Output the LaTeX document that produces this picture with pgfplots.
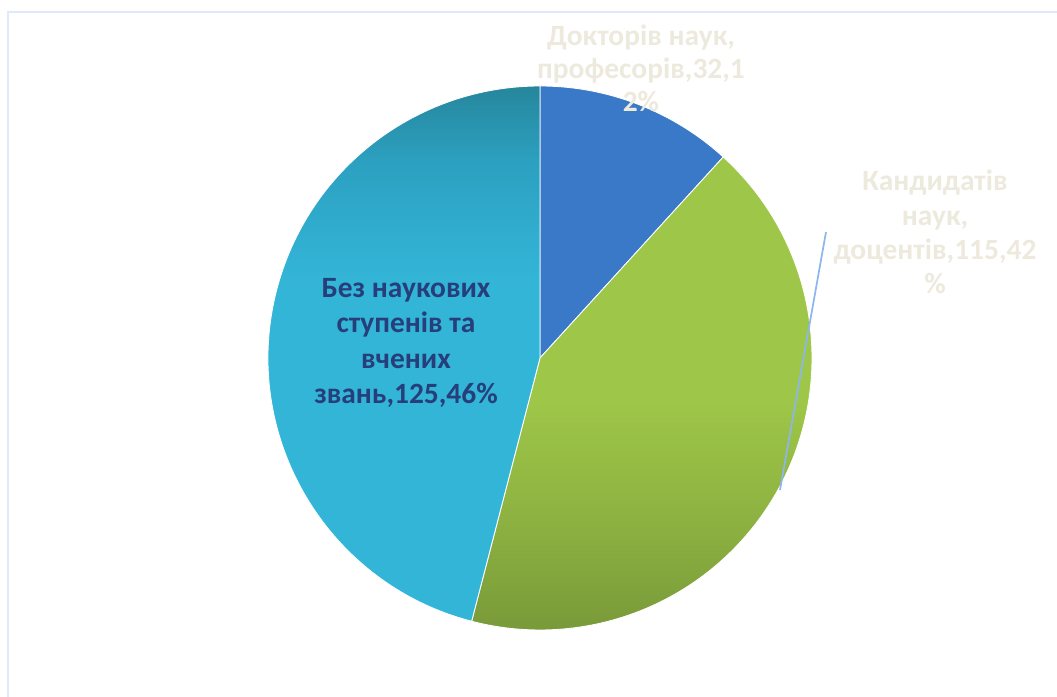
\documentclass[border=0pt]{standalone}
\usepackage{pgfplots}
\pgfplotsset{compat=1.18}
\usepackage{pgfplotstable}
\usepackage{fontspec}
\setmainfont{Carlito}

\definecolor{docblue}{RGB}{58,120,200}
\definecolor{greentop}{RGB}{158,198,72}
\definecolor{greenmid}{RGB}{140,176,64}
\definecolor{greenbot}{RGB}{118,150,56}
\definecolor{tealtop}{RGB}{38,134,156}
\definecolor{tealmid}{RGB}{44,160,192}
\definecolor{tealbot}{RGB}{51,181,216}
\definecolor{pale}{RGB}{237,233,221}
\definecolor{navy}{RGB}{38,62,122}
\definecolor{leader}{RGB}{140,182,236}
\definecolor{frame}{RGB}{222,234,249}

% path bounding box maps to 25bp..75bp of the shading
\pgfdeclareverticalshading{greenshade}{100bp}{color(0bp)=(greenbot); color(25bp)=(greenbot); color(37bp)=(greenmid); color(50bp)=(greentop); color(100bp)=(greentop)}
\pgfdeclareverticalshading{tealshade}{100bp}{color(0bp)=(tealbot); color(57bp)=(tealbot); color(68bp)=(tealmid); color(75bp)=(tealtop); color(100bp)=(tealtop)}

% values of the three groups
\pgfplotstableread[col sep=comma]{
label,value
doctors,32
candidates,115
none,125
}\piedata

\begin{document}
\begin{tikzpicture}
\pgfplotstablegetelem{0}{value}\of\piedata \let\va\pgfplotsretval
\pgfplotstablegetelem{1}{value}\of\piedata \let\vb\pgfplotsretval
\pgfplotstablegetelem{2}{value}\of\piedata \let\vc\pgfplotsretval
\pgfmathsetmacro\tot{\va+\vb+\vc}
\pgfmathsetmacro\angA{90-\va/\tot*360}
\pgfmathsetmacro\angB{\angA-\vb/\tot*360}
\pgfmathsetmacro\angC{\angB-\vc/\tot*360}
\def\R{95.2pt}
\begin{axis}[
    x=0.35pt, y=0.35pt,
    xmin=0, xmax=1057, ymin=0, ymax=697,
    hide axis, clip=false,
    scale only axis,
]
% frame (top and left edges visible)
\draw[frame, line width=1pt] (axis cs:1057,685) -- (axis cs:8,685) -- (axis cs:8,0);

% slices
\fill[docblue, draw=white, line width=0.3pt] (axis cs:540,339) -- ++(90:\R) arc[start angle=90, end angle=\angA, radius=\R] -- cycle;
\shade[shading=greenshade, draw=white, line width=0.3pt]
    (axis cs:540,339) -- ++(\angA:\R) arc[start angle=\angA, end angle=\angB, radius=\R] -- cycle;
\shade[shading=tealshade, draw=white, line width=0.3pt]
    (axis cs:540,339) -- ++(\angB:\R) arc[start angle=\angB, end angle=\angC, radius=\R] -- cycle;

% leader line
\draw[leader, line width=0.6pt] (axis cs:826,465) -- (axis cs:780,207);

% labels
\node[pale, font=\bfseries\fontsize{10.3}{11.6}\selectfont, align=center] at (axis cs:641,629)
    {Докторів наук,\\професорів,32,1\\2\%};
\node[pale, font=\bfseries\fontsize{10.3}{12}\selectfont, align=center] at (axis cs:935,465)
    {Кандидатів\\наук,\\доцентів,115,42\\\%};
\node[navy, font=\bfseries\fontsize{10.3}{12.3}\selectfont, align=center] at (axis cs:406,354)
    {Без наукових\\ступенів та\\вчених\\звань,125,46\%};
\end{axis}
\pgfresetboundingbox
\path (current axis.south west) rectangle (current axis.north east);
\end{tikzpicture}
\end{document}
